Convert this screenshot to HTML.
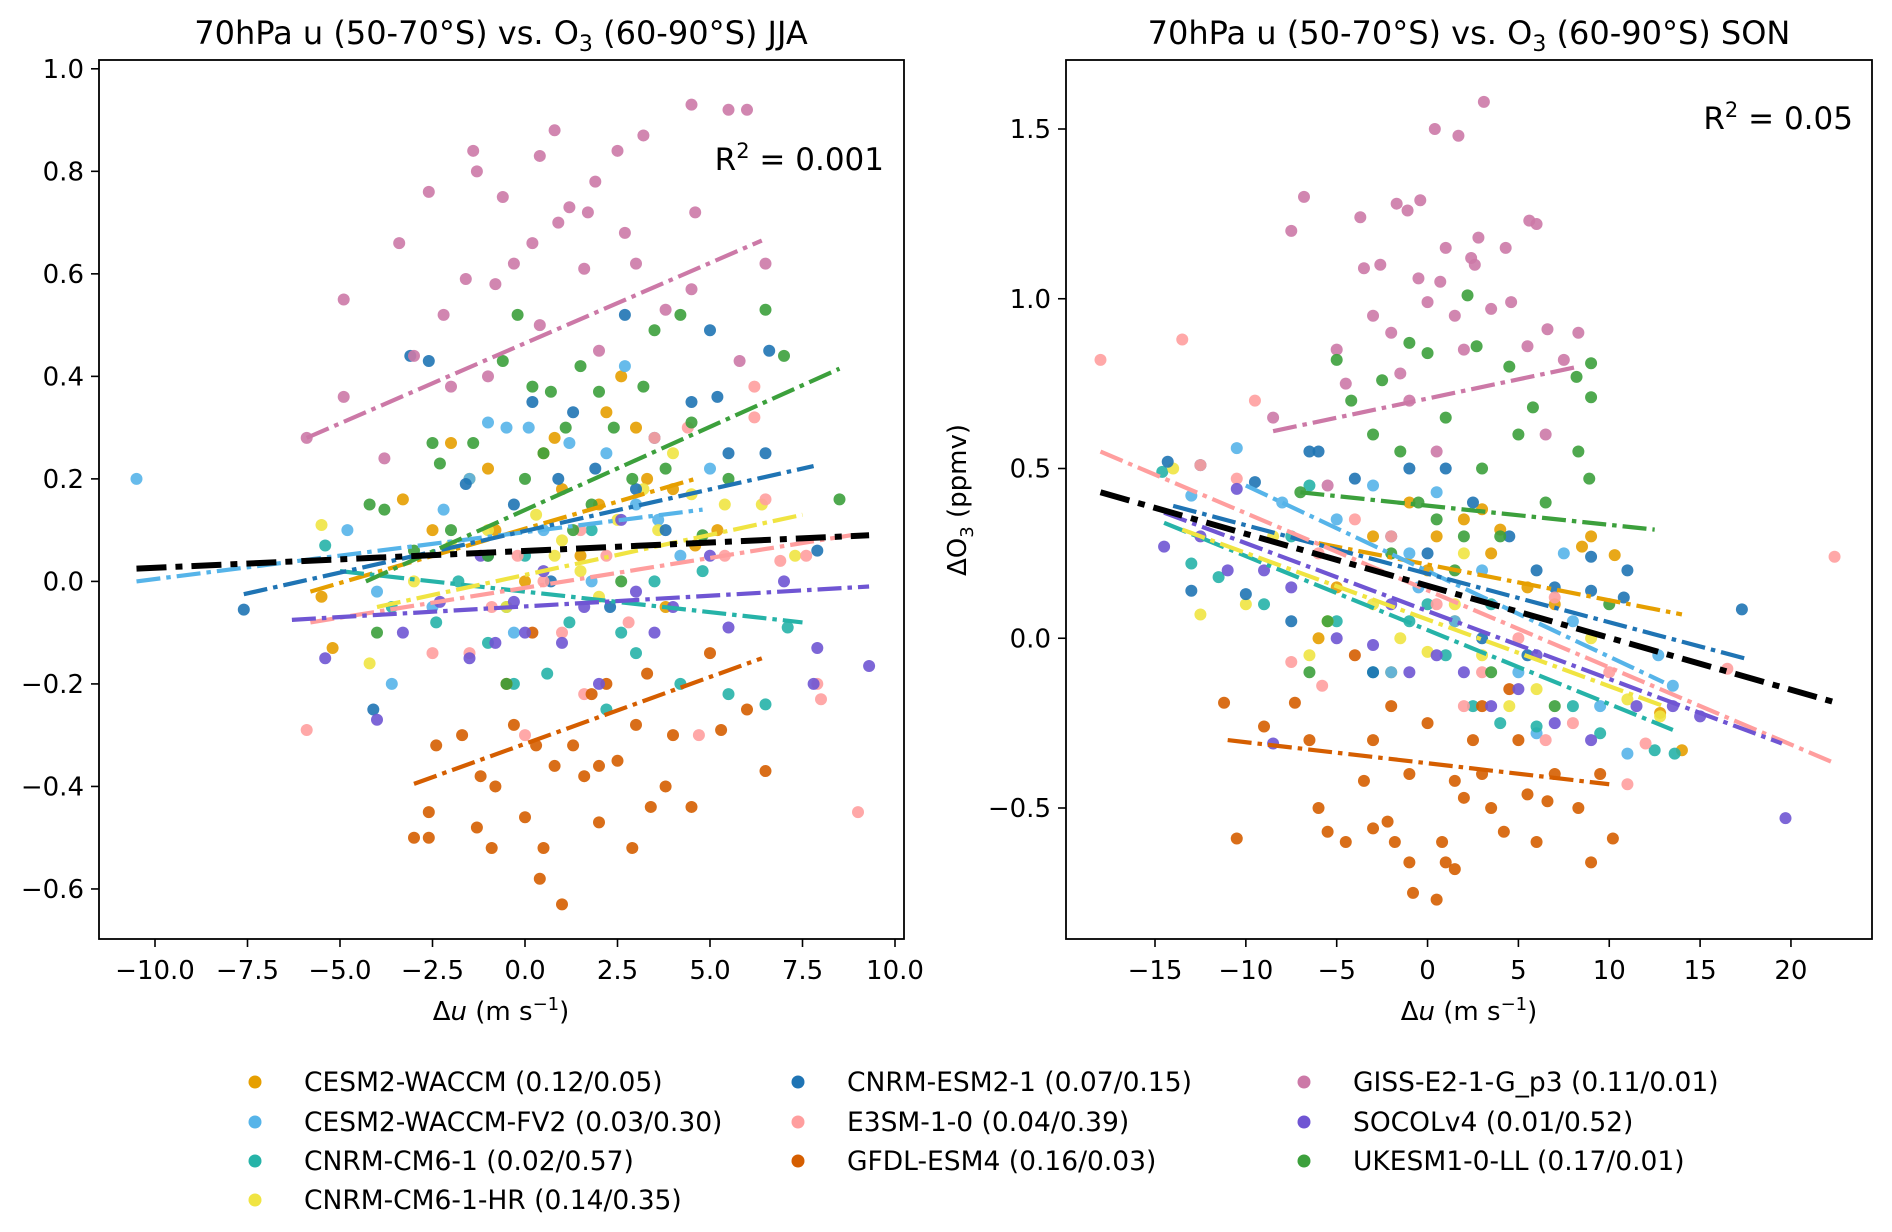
<!DOCTYPE html>
<html><head><meta charset="utf-8"><style>
body{margin:0;background:#fff}
svg{display:block;font-family:"DejaVu Sans","Liberation Sans",sans-serif}
</style></head><body>
<svg id="fig" width="1892" height="1232" viewBox="0 0 1892 1232">
  <text x="501" y="44" text-anchor="middle" font-size="32">70hPa u (50-70°S) vs. O<tspan font-size="22" dy="7">3</tspan><tspan dy="-7"> (60-90°S) JJA</tspan></text>
  <text x="1469" y="44" text-anchor="middle" font-size="32">70hPa u (50-70°S) vs. O<tspan font-size="22" dy="7">3</tspan><tspan dy="-7"> (60-90°S) SON</tspan></text>
  <text x="884" y="170" text-anchor="end" font-size="31">R<tspan font-size="21" dy="-12">2</tspan><tspan dy="12"> = 0.001</tspan></text>
  <text x="1853" y="129" text-anchor="end" font-size="31">R<tspan font-size="21" dy="-12">2</tspan><tspan dy="12"> = 0.05</tspan></text>
  <text x="501" y="1020" text-anchor="middle" font-size="26">Δ<tspan font-style="italic">u</tspan> (m s<tspan font-size="18" dy="-10">−1</tspan><tspan dy="10">)</tspan></text>
  <text x="1469" y="1020" text-anchor="middle" font-size="26">Δ<tspan font-style="italic">u</tspan> (m s<tspan font-size="18" dy="-10">−1</tspan><tspan dy="10">)</tspan></text>
  <text transform="translate(966,500) rotate(-90)" text-anchor="middle" font-size="26">ΔO<tspan font-size="18" dy="7">3</tspan><tspan dy="-7"> (ppmv)</tspan></text>
</svg>
<script>
const models = ["CESM2-WACCM","CESM2-WACCM-FV2","CNRM-CM6-1","CNRM-CM6-1-HR","CNRM-ESM2-1","E3SM-1-0","GFDL-ESM4","GISS-E2-1-G_p3","SOCOLv4","UKESM1-0-LL"];
const colors = ["#e69f00","#56b4e9","#26b3a8","#f0e442","#1f74b4","#ff9e9e","#d55e00","#cc79a7","#6f55d3","#3ca03c"];
const r2labels = ["(0.12/0.05)","(0.03/0.30)","(0.02/0.57)","(0.14/0.35)","(0.07/0.15)","(0.04/0.39)","(0.16/0.03)","(0.11/0.01)","(0.01/0.52)","(0.17/0.01)"];
const jjaPoints = [
[[-5.2,-0.13],[-5.5,-0.03],[-3.3,0.16],[-2.0,0.27],[-1.5,0.2],[-0.8,0.1],[0.5,0.25],[1.0,0.18],[2.2,0.33],[2.6,0.4],[3.3,0.2],[4.0,0.18],[4.6,0.07],[-2.5,0.1],[0.0,0.0],[1.5,0.05],[3.8,-0.05],[5.2,0.1],[-1.0,0.22],[0.8,0.28],[2.0,0.15],[3.0,0.3]],
[[-10.5,0.2],[-4.8,0.1],[-4.0,-0.02],[-3.6,-0.2],[-2.2,0.14],[-1.0,0.31],[-0.5,0.3],[0.1,0.3],[1.2,0.27],[2.7,0.42],[3.0,0.15],[-0.3,-0.1],[1.8,0.0],[4.2,0.05],[5.0,0.22],[-2.5,-0.05],[0.5,0.1],[-1.5,0.2],[2.2,0.25],[3.6,0.12]],
[[-5.4,0.07],[-3.6,-0.05],[-2.4,-0.08],[-1.0,-0.12],[-0.3,-0.2],[0.6,-0.18],[1.2,-0.08],[2.2,-0.25],[3.0,-0.14],[3.5,0.0],[4.2,-0.2],[5.5,-0.22],[6.5,-0.24],[7.1,-0.09],[0.0,0.05],[1.8,0.1],[4.8,0.02],[-1.8,0.0],[-0.5,-0.05],[2.6,-0.1]],
[[-5.5,0.11],[-4.2,-0.16],[-3.0,0.0],[-2.0,0.07],[-1.0,0.1],[0.3,0.13],[0.8,0.05],[1.5,0.02],[2.5,0.12],[3.2,0.18],[4.0,0.25],[4.5,0.17],[5.4,0.15],[6.4,0.15],[7.3,0.05],[-0.5,-0.05],[2.0,-0.03],[1.0,0.08],[3.6,0.1]],
[[-7.6,-0.055],[-4.1,-0.25],[-2.6,0.43],[-3.1,0.44],[-1.0,0.05],[0.2,0.35],[1.3,0.33],[2.7,0.52],[3.8,0.1],[4.5,0.35],[5.0,0.49],[5.2,0.36],[6.6,0.45],[7.9,0.06],[1.9,0.22],[0.7,0.0],[3.0,0.18],[-0.3,0.15],[5.5,0.25],[2.3,-0.05],[-1.6,0.19],[6.5,0.25],[0.9,0.2],[3.5,0.28]],
[[-5.9,-0.29],[-2.5,-0.14],[-1.5,-0.14],[-0.9,-0.05],[0.5,0.0],[1.0,-0.1],[1.6,-0.22],[2.8,-0.08],[3.5,0.28],[4.4,0.3],[4.7,-0.3],[5.4,0.05],[6.2,0.32],[6.5,0.16],[6.9,0.04],[7.6,0.05],[7.9,-0.2],[8.0,-0.23],[9.0,-0.45],[6.2,0.38],[0.0,-0.3],[2.2,0.05],[1.5,0.1],[-0.2,0.05]],
[[-3.0,-0.5],[-2.6,-0.5],[-2.6,-0.45],[-2.4,-0.32],[-1.7,-0.3],[-1.3,-0.48],[-0.9,-0.52],[-0.8,-0.4],[-0.3,-0.28],[0.0,-0.46],[0.4,-0.58],[0.5,-0.52],[1.0,-0.63],[0.8,-0.36],[1.3,-0.32],[1.6,-0.38],[2.0,-0.47],[2.2,-0.2],[2.5,-0.35],[2.9,-0.52],[3.0,-0.28],[3.4,-0.44],[3.8,-0.4],[4.0,-0.3],[4.5,-0.44],[5.0,-0.14],[5.3,-0.29],[6.0,-0.25],[6.5,-0.37],[-0.5,-0.2],[1.8,-0.22],[3.3,-0.18],[0.2,-0.1],[-1.2,-0.38],[0.3,-0.32],[2.0,-0.36]],
[[-5.9,0.28],[-4.9,0.55],[-4.9,0.36],[-3.4,0.66],[-3.0,0.44],[-2.6,0.76],[-1.4,0.84],[-1.3,0.8],[-1.6,0.59],[-0.6,0.75],[-0.3,0.62],[0.4,0.83],[0.8,0.88],[0.9,0.7],[1.9,0.78],[2.5,0.84],[3.2,0.87],[4.5,0.93],[5.5,0.92],[6.0,0.92],[4.6,0.72],[3.0,0.62],[1.6,0.61],[2.0,0.45],[4.5,0.57],[-1.0,0.4],[0.4,0.5],[5.8,0.43],[6.5,0.62],[-3.8,0.24],[-2.0,0.38],[1.2,0.73],[-0.8,0.58],[0.2,0.66],[1.7,0.72],[2.7,0.68],[3.8,0.53],[-2.2,0.52]],
[[-5.4,-0.15],[-4.0,-0.27],[-3.3,-0.1],[-1.5,-0.15],[-0.8,-0.12],[-0.3,-0.04],[0.5,0.02],[1.0,-0.12],[1.6,-0.05],[2.0,-0.2],[3.5,-0.1],[4.0,-0.05],[5.0,0.05],[5.5,-0.09],[7.0,0.0],[7.9,-0.13],[7.8,-0.2],[9.3,-0.165],[-1.2,0.05],[2.6,0.12],[-2.3,-0.04],[0.0,-0.1],[3.0,-0.02]],
[[-4.2,0.15],[-3.8,0.14],[-2.5,0.27],[-2.3,0.23],[-1.4,0.27],[-0.6,0.43],[-0.2,0.52],[0.2,0.38],[0.7,0.37],[1.1,0.3],[1.5,0.42],[2.0,0.37],[2.4,0.3],[3.2,0.38],[3.5,0.49],[4.2,0.52],[4.5,0.31],[6.5,0.53],[7.0,0.44],[8.5,0.16],[-2.0,0.1],[0.0,0.2],[1.8,0.15],[3.8,0.22],[5.5,0.2],[-1.0,0.05],[2.6,0.0],[-0.5,-0.2],[4.8,0.09],[-4.0,-0.1],[-3.0,0.06],[0.5,0.25],[1.3,0.1],[2.9,0.2]]
];
const sonPoints = [
[[-6.0,0.0],[-3.0,0.3],[-1.0,0.4],[0.5,0.3],[2.0,0.35],[3.0,0.38],[4.0,0.32],[5.5,0.15],[8.5,0.27],[9.0,0.3],[10.3,0.245],[14.0,-0.33],[12.8,-0.22],[-5.0,0.15],[7.0,0.1],[1.5,0.05],[-2.0,-0.1],[0.0,0.2],[3.5,0.25]],
[[-10.5,0.56],[-13.0,0.42],[-8.0,0.4],[-5.0,0.35],[-3.0,0.45],[-1.0,0.25],[0.5,0.43],[1.5,0.05],[3.0,0.2],[5.0,-0.1],[6.0,-0.28],[8.0,0.05],[9.5,-0.2],[11.0,-0.34],[12.7,-0.05],[13.5,-0.14],[-2.0,-0.1],[7.5,0.25],[-0.5,0.15]],
[[-14.6,0.49],[-13.0,0.22],[-11.5,0.18],[-9.0,0.1],[-6.5,0.45],[-5.0,0.05],[-3.0,-0.1],[-1.0,0.05],[1.0,-0.05],[2.5,-0.2],[4.0,-0.25],[6.0,-0.26],[8.0,-0.2],[9.5,-0.28],[12.5,-0.33],[13.6,-0.34],[-7.5,0.3],[3.5,0.1],[0.0,0.1]],
[[-14.0,0.5],[-12.5,0.07],[-10.0,0.1],[-8.5,0.3],[-5.5,0.05],[-3.0,0.1],[-1.5,0.0],[0.0,-0.04],[1.5,0.1],[3.0,-0.05],[4.5,-0.2],[6.0,-0.15],[9.0,0.0],[11.0,-0.18],[12.8,-0.23],[-6.5,-0.05],[2.0,0.25]],
[[-14.3,0.52],[-12.5,0.51],[-13.0,0.14],[-10.0,0.13],[-9.5,0.46],[-6.5,0.55],[-6.0,0.55],[-4.0,0.47],[-1.0,0.5],[1.0,0.5],[2.5,0.4],[4.5,0.3],[6.0,0.2],[7.0,0.15],[9.0,0.24],[9.0,0.14],[11.0,0.2],[17.3,0.085],[-3.0,-0.1],[0.0,0.25],[3.0,0.0],[-7.5,0.05],[10.8,0.12],[5.5,-0.05],[-2.0,0.3]],
[[-18,0.82],[-13.5,0.88],[-9.5,0.7],[-12.5,0.51],[-10.5,0.47],[-6.0,0.25],[-7.5,-0.07],[-5.8,-0.14],[-2.0,0.3],[0.5,0.1],[3.0,-0.1],[5.0,0.0],[6.5,-0.3],[8.0,-0.25],[10.0,-0.1],[12.0,-0.31],[11.0,-0.43],[16.5,-0.09],[22.4,0.24],[7.0,0.12],[-4.0,0.35],[2.0,-0.2]],
[[-11.2,-0.19],[-10.5,-0.59],[-9.0,-0.26],[-7.3,-0.19],[-6.0,-0.5],[-5.5,-0.57],[-4.5,-0.6],[-3.5,-0.42],[-3.0,-0.56],[-2.2,-0.54],[-1.8,-0.6],[-1.0,-0.66],[-0.8,-0.75],[0.5,-0.77],[0.8,-0.6],[1.0,-0.66],[1.5,-0.68],[2.0,-0.47],[3.0,-0.4],[3.5,-0.5],[4.2,-0.57],[5.5,-0.46],[6.0,-0.6],[6.6,-0.48],[8.3,-0.5],[9.0,-0.66],[10.2,-0.59],[-4.0,-0.05],[-2.0,-0.2],[0.0,-0.25],[2.5,-0.3],[4.5,-0.15],[-6.5,-0.3],[1.5,-0.42],[7.0,-0.4],[9.5,-0.4],[-1.0,-0.4],[5.0,-0.3],[-3.0,-0.3],[3.0,-0.2]],
[[-8.5,0.65],[-6.8,1.3],[-7.5,1.2],[-5.0,0.85],[-3.7,1.24],[-3.5,1.09],[-2.6,1.1],[-1.7,1.28],[-1.1,1.26],[-0.4,1.29],[0.4,1.5],[1.7,1.48],[3.1,1.58],[2.8,1.18],[2.4,1.12],[4.3,1.15],[4.6,0.99],[5.6,1.23],[6.0,1.22],[6.6,0.91],[8.3,0.9],[7.5,0.82],[0.0,0.99],[1.0,1.15],[-2.0,0.9],[-4.5,0.75],[1.5,0.95],[3.5,0.97],[-1.5,0.78],[5.5,0.86],[-1.0,0.7],[2.0,0.85],[6.5,0.6],[-5.5,0.45],[0.5,0.55],[-3.0,0.95],[0.7,1.05],[2.6,1.1],[-0.5,1.06]],
[[-14.5,0.27],[-12.5,0.3],[-10.5,0.44],[-11.0,0.2],[-9.0,0.2],[-7.5,0.15],[-5.0,0.0],[-3.0,-0.02],[-1.0,-0.1],[0.5,-0.05],[2.0,-0.1],[3.5,-0.2],[5.0,-0.15],[7.0,-0.25],[9.0,-0.3],[11.5,-0.2],[13.5,-0.2],[15.0,-0.23],[19.7,-0.53],[-8.5,-0.31],[6.0,-0.05],[-2.0,0.1]],
[[-5.0,0.82],[-4.2,0.7],[-2.5,0.76],[-1.0,0.87],[0.0,0.84],[2.2,1.01],[2.7,0.86],[4.5,0.8],[5.0,0.6],[5.8,0.68],[8.2,0.77],[9.0,0.81],[9.0,0.71],[8.3,0.55],[8.9,0.47],[-7.0,0.43],[-3.0,0.6],[-1.5,0.55],[1.0,0.65],[3.0,0.5],[0.5,0.35],[-2.0,0.25],[6.5,0.4],[4.0,0.3],[-5.5,0.05],[1.5,0.2],[10.0,0.1],[7.0,-0.2],[-6.5,-0.1],[3.5,-0.1],[-0.5,0.4],[2.0,0.3]]
];
const jjaFits = [[-5.8,-0.02,4.6,0.2],[-10.5,0,4.8,0.14],[-5,0.02,7.5,-0.08],[-4,-0.05,7.5,0.13],[-7.6,-0.025,7.8,0.225],[-5.8,-0.08,8.8,0.09],[-3,-0.395,6.4,-0.15],[-5.9,0.28,6.4,0.665],[-6.3,-0.075,9.3,-0.01],[-4.3,0.0,8.5,0.415]];
const sonFits = [[-6,0.28,14,0.07],[-10,0.45,13,-0.13],[-14.5,0.34,13.5,-0.27],[-13.5,0.32,13,-0.2],[-14,0.39,17.5,-0.06],[-18,0.55,22.5,-0.37],[-11,-0.3,10,-0.43],[-8.5,0.61,8.3,0.8],[-14.5,0.37,19.5,-0.31],[-7,0.43,12.5,0.32]];
const jjaAll = [-10.5,0.025,9.3,0.09];
const sonAll = [-18,0.43,22.5,-0.19];
const jjaXTicks = [-10,-7.5,-5,-2.5,0,2.5,5,7.5,10];
const jjaXTickLabels = ["−10.0","−7.5","−5.0","−2.5","0.0","2.5","5.0","7.5","10.0"];
const jjaYTicks = [-0.6,-0.4,-0.2,0,0.2,0.4,0.6,0.8,1.0];
const jjaYTickLabels = ["−0.6","−0.4","−0.2","0.0","0.2","0.4","0.6","0.8","1.0"];
const sonXTicks = [-15,-10,-5,0,5,10,15,20];
const sonXTickLabels = ["−15","−10","−5","0","5","10","15","20"];
const sonYTicks = [-0.5,0,0.5,1.0,1.5];
const sonYTickLabels = ["−0.5","0.0","0.5","1.0","1.5"];

const NS="http://www.w3.org/2000/svg";
const svg=document.getElementById('fig');
function mk(tag,attrs,parent){const e=document.createElementNS(NS,tag);for(const k in attrs)e.setAttribute(k,attrs[k]);(parent||svg).appendChild(e);return e;}

function panel(opt){
  const g=mk('g',{});
  
  
  const sx=v=>opt.x0px+(v-opt.xa)*opt.kx;
  const sy=v=>opt.y0px-(v-opt.ya)*opt.ky;
  opt.points.forEach((pts,mi)=>{
    const pg=mk('g',{fill:colors[mi],'fill-opacity':0.9},g);
    
    
    pts.forEach(p=>{
      const c=mk('circle',{cx:sx(p[0]),cy:sy(p[1]),r:6},pg);
      
      
    });
  });
  opt.fits.forEach((f,mi)=>{
    const l=mk('line',{x1:sx(f[0]),y1:sy(f[1]),x2:sx(f[2]),y2:sy(f[3]),stroke:colors[mi],'stroke-width':4.2,'stroke-dasharray':'24 6 4.5 6'},g);
    
    
  });
  const a=opt.all;
  const bl=mk('line',{x1:sx(a[0]),y1:sy(a[1]),x2:sx(a[2]),y2:sy(a[3]),stroke:'#000','stroke-width':6,'stroke-dasharray':'30 9 7 9'},g);
  
  
  const fr=mk('rect',{x:opt.L,y:opt.T,width:opt.R-opt.L,height:opt.B-opt.T,fill:'none',stroke:'#000','stroke-width':1.8},g);
  
  
  opt.xt.forEach((t,i)=>{
    const x=sx(t);
    const tk=mk('line',{x1:x,y1:opt.B,x2:x,y2:opt.B+8,stroke:'#000','stroke-width':1.6},g);
    
    
    const tx=mk('text',{x:x,y:opt.B+40,'text-anchor':'middle','font-size':26},g);
    tx.textContent=opt.xl[i];
    
    
  });
  opt.yt.forEach((t,i)=>{
    const y=sy(t);
    const tk=mk('line',{x1:opt.L-8,y1:y,x2:opt.L,y2:y,stroke:'#000','stroke-width':1.6},g);
    
    
    const tx=mk('text',{x:opt.L-15,y:y+9,'text-anchor':'end','font-size':26},g);
    tx.textContent=opt.yl[i];
    
    
  });
}
panel({name:'jja-panel',L:99,R:904,T:60,B:939,x0px:155,xa:-10,kx:37,y0px:68.8,ya:1.0,ky:512.6,points:jjaPoints,fits:jjaFits,all:jjaAll,xt:jjaXTicks,xl:jjaXTickLabels,yt:jjaYTicks,yl:jjaYTickLabels});
panel({name:'son-panel',L:1066,R:1872,T:60,B:939,x0px:1155,xa:-15,kx:18.17,y0px:129,ya:1.5,ky:339.5,points:sonPoints,fits:sonFits,all:sonAll,xt:sonXTicks,xl:sonXTickLabels,yt:sonYTicks,yl:sonYTickLabels});

const lg=mk('g',{});


const legCols=[[0,1,2,3],[4,5,6],[7,8,9]];
const colX=[255,798,1304];
const rowY=[1082,1122,1161,1200];
legCols.forEach((col,ci)=>col.forEach((mi,ri)=>{
  const eg=mk('g',{},lg);
  
  
  mk('circle',{cx:colX[ci],cy:rowY[ri],r:6.5,fill:colors[mi]},eg);
  const t=mk('text',{x:colX[ci]+49,y:rowY[ri]+9,'font-size':26.5},eg);
  t.textContent=models[mi]+' '+r2labels[mi];
}));
</script>
</body></html>
